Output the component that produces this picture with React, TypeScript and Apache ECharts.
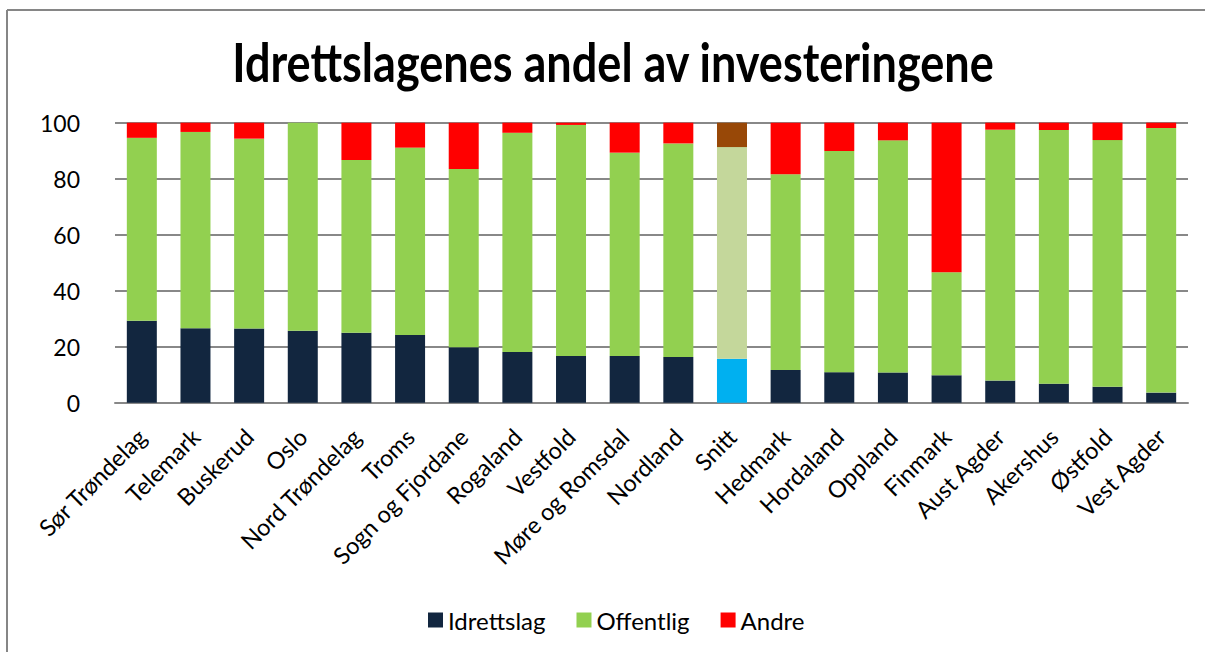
import React, { useEffect, useRef } from "react";
import * as echarts from "echarts";

const titleText = "Idrettslagenes andel av investeringene";

const categories = [
  "Sør Trøndelag", "Telemark", "Buskerud", "Oslo", "Nord Trøndelag", "Troms",
  "Sogn og Fjordane", "Rogaland", "Vestfold", "Møre og Romsdal", "Nordland",
  "Snitt", "Hedmark", "Hordaland", "Oppland", "Finmark", "Aust Agder",
  "Akershus", "Østfold", "Vest Agder",
];

const idrettslag = [29.3, 26.6, 26.5, 25.7, 25.0, 24.2, 19.8, 18.1, 16.7, 16.7, 16.3, 15.7, 11.7, 10.9, 10.8, 9.8, 7.9, 6.8, 5.7, 3.6];
const offentlig = [65.3, 70.1, 67.8, 74.3, 61.7, 66.9, 63.7, 78.3, 82.5, 72.6, 76.3, 75.6, 69.9, 79.0, 82.9, 36.8, 89.6, 90.6, 88.1, 94.5];
const andre = [5.4, 3.3, 5.7, 0, 13.3, 8.9, 16.5, 3.6, 0.8, 10.7, 7.4, 8.7, 18.4, 10.1, 6.3, 53.4, 2.5, 2.6, 6.2, 1.9];

const highlightCategory = "Snitt";

const FONT = "Lato";

const COLORS = {
  idrettslag: "#12263F",
  offentlig: "#92D050",
  andre: "#FF0000",
  snittIdrettslag: "#00B0F0",
  snittOffentlig: "#C4D79B",
  snittAndre: "#984807",
};

function withHighlight(values: number[], color: string) {
  return values.map((v, i) =>
    categories[i] === highlightCategory ? { value: v, itemStyle: { color } } : v
  );
}

export default function App() {
  const ref = useRef<HTMLDivElement>(null);

  useEffect(() => {
    if (!ref.current) return;
    const chart = echarts.init(ref.current, undefined, { renderer: "svg" });

    const titleSize = 54;
    let scaleX = 1;
    try {
      const ctx = document.createElement("canvas").getContext("2d");
      if (ctx) {
        ctx.font = `bold ${titleSize}px ${FONT}`;
        const w = ctx.measureText(titleText).width;
        if (w > 0) scaleX = 763 / w;
      }
    } catch (e) {}

    chart.setOption({
      animation: false,
      backgroundColor: "#ffffff",
      textStyle: { fontFamily: FONT },
      grid: { left: 115, right: 17, top: 122.7, bottom: 249.3, containLabel: false },
      legend: {
        bottom: 15,
        left: 423,
        itemWidth: 15,
        itemHeight: 15,
        itemGap: 31,
        icon: "rect",
        textStyle: { fontSize: 24, color: "#000", fontFamily: FONT },
        data: ["Idrettslag", "Offentlig", "Andre"],
      },
      graphic: [
        {
          type: "line",
          shape: { x1: 7, y1: 10, x2: 1205, y2: 10 },
          style: { stroke: "#868686", lineWidth: 2 },
        },
        {
          type: "line",
          shape: { x1: 7, y1: 10, x2: 7, y2: 652 },
          style: { stroke: "#868686", lineWidth: 2 },
        },
        {
          type: "text",
          x: 613,
          y: 61,
          scaleX: scaleX,
          style: {
            text: titleText,
            font: `bold ${titleSize}px ${FONT}`,
            fill: "#000",
            align: "center",
            verticalAlign: "middle",
          },
        },
      ],
      xAxis: {
        type: "category",
        data: categories,
        axisLine: { show: true, lineStyle: { color: "#888", width: 2 } },
        axisTick: { show: false },
        axisLabel: {
          interval: 0,
          rotate: 45,
          fontSize: 23.5,
          color: "#000",
          margin: 30,
          fontFamily: FONT,
        },
      },
      yAxis: {
        type: "value",
        min: 0,
        max: 100,
        interval: 20,
        axisLine: { show: false },
        axisTick: { show: false },
        splitLine: { lineStyle: { color: "#888", width: 2 } },
        axisLabel: { fontSize: 23, color: "#000", margin: 35, fontFamily: FONT },
      },
      series: [
        {
          name: "Idrettslag",
          type: "bar",
          stack: "total",
          barWidth: 30,
          itemStyle: { color: COLORS.idrettslag },
          data: withHighlight(idrettslag, COLORS.snittIdrettslag),
        },
        {
          name: "Offentlig",
          type: "bar",
          stack: "total",
          barWidth: 30,
          itemStyle: { color: COLORS.offentlig },
          data: withHighlight(offentlig, COLORS.snittOffentlig),
        },
        {
          name: "Andre",
          type: "bar",
          stack: "total",
          barWidth: 30,
          itemStyle: { color: COLORS.andre },
          data: withHighlight(andre, COLORS.snittAndre),
        },
      ],
    });

    return () => chart.dispose();
  }, []);

  return (
    <div
      ref={ref}
      style={{ position: "absolute", left: 0, top: 0, width: 1205, height: 652 }}
    />
  );
}
